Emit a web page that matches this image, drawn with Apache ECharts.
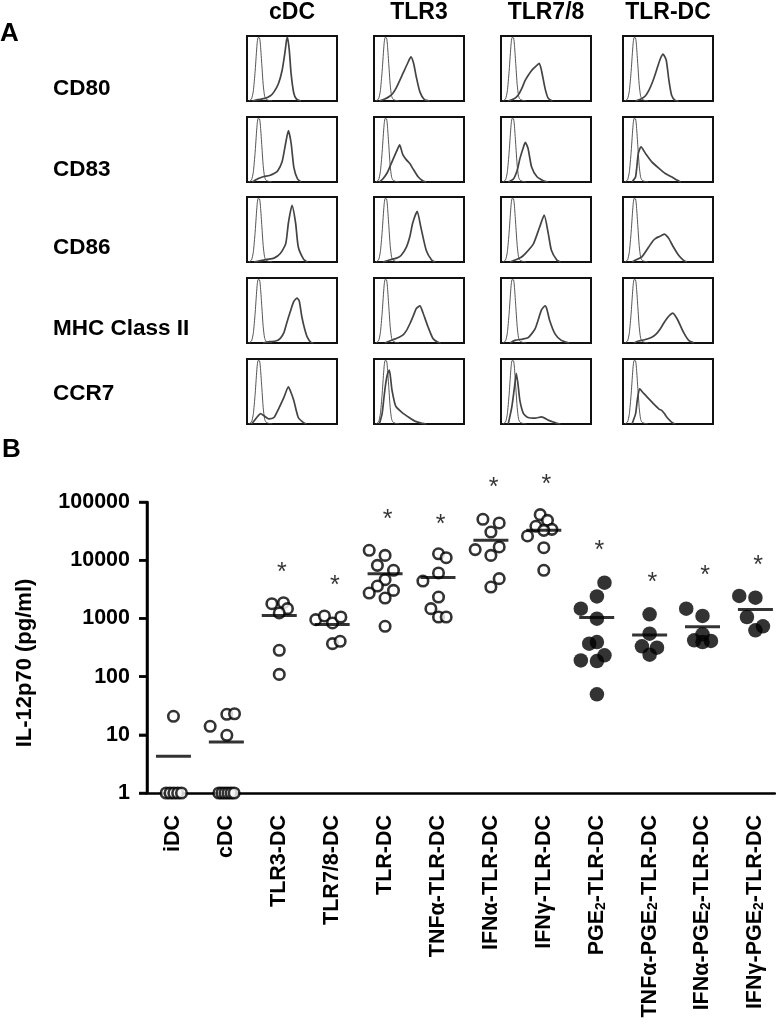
<!DOCTYPE html>
<html>
<head>
<meta charset="utf-8">
<title>IL-12p70</title>
<script src="https://cdn.jsdelivr.net/npm/echarts@6/dist/echarts.min.js"></script>
<style>
html, body { margin: 0; padding: 0; background: #fff; }
#chart { width: 776px; height: 1024px; }
</style>
</head>
<body>
<div id="chart"></div>
<script>
const FONT = "'Liberation Sans', Arial, Helvetica, sans-serif"

// ---- panel A: histograms (x = fluorescence 0..100, y = count 0..100) ----
const columnLabels = ['cDC', 'TLR3', 'TLR7/8', 'TLR-DC']
const rowLabels = ['CD80', 'CD83', 'CD86', 'MHC Class II', 'CCR7']

// isotype control, same thin peak in every box
const isotypeCurve = [[2, 0], [5, 3], [7, 15], [9, 45], [10.5, 75], [11.5, 92], [12.5, 98], [14, 97], [15, 85], [16.5, 55], [18, 25], [19.5, 8], [21, 3], [24, 1], [28, 0]]

// stained curves, one per column (cDC, TLR3, TLR7/8, TLR-DC)
const cd80Curves = [
  [[6, 0], [12, 2], [20, 4], [26, 8], [30, 14], [35, 27], [39, 47], [42, 73], [44, 94], [45, 98], [47, 78], [49, 42], [52, 12], [55, 3], [60, 0]],
  [[6, 0], [12, 3], [17, 7], [21, 12], [25, 21], [32, 42], [38, 60], [41, 68], [44, 58], [47, 37], [51, 14], [56, 2], [62, 0]],
  [[8, 0], [14, 3], [19, 9], [23, 19], [27, 32], [34, 47], [40, 55], [42.5, 58], [45, 47], [49, 19], [52.5, 4], [57, 0]],
  [[14, 0], [20, 3], [25, 8], [29, 17], [33, 30], [36, 42], [39, 55], [41.5, 65], [44.5, 72], [48, 63], [51, 32], [54, 9], [58, 1], [62, 0]]
]
const cd83Curves = [
  [[6, 0], [12, 5], [18, 8], [25, 10], [30, 13], [34, 17], [39, 31], [43, 60], [46, 79], [49, 60], [52, 23], [56, 5], [60, 0]],
  [[6, 0], [10, 5], [15, 15], [19, 28], [25, 47], [28.5, 57], [32, 42], [36, 34], [40, 28], [43, 21], [49, 8], [54, 2], [58, 0]],
  [[8, 0], [14, 5], [18, 18], [21, 36], [25, 54], [27, 61], [30, 52], [34, 23], [40, 8], [47, 2], [52, 0]],
  [[10, 0], [14, 8], [17, 44], [20, 54], [25, 44], [32, 31], [40, 21], [47, 13], [54, 8], [60, 3], [64, 0]]
]
const cd86Curves = [
  [[8, 0], [15, 2], [22, 4], [30, 6], [37, 13], [43, 28], [46, 60], [50, 87], [54, 60], [57, 23], [63, 4], [67, 0]],
  [[10, 0], [17, 3], [25, 6], [30, 10], [36, 23], [40, 40], [43, 60], [48, 78], [52, 54], [58, 18], [64, 3], [68, 0]],
  [[10, 0], [15.5, 3], [22, 7], [27, 13], [36, 28], [43, 54], [48, 72], [52.5, 44], [56, 18], [62, 3], [66, 0]],
  [[10, 0], [14, 3], [21, 8], [28.5, 23], [33, 32], [36, 36], [40, 39], [43, 41], [46, 43], [48, 41], [51, 36], [56, 23], [62, 10], [67, 3], [71, 0]]
]
const mhcCurves = [
  [[18, 0], [25, 2], [32, 3], [37, 7], [41, 16], [44, 30], [48, 48], [52, 64], [55.5, 69], [58, 65], [61, 40], [64, 22], [67, 9], [71, 1], [74, 0]],
  [[12, 0], [21, 5], [28, 9], [32, 12], [36, 19], [40, 30], [44, 43], [47, 53], [51, 57], [54, 48], [60, 25], [65.5, 7], [71, 1], [74, 0]],
  [[10, 0], [15.5, 4], [24, 6], [30, 8], [34, 14], [38, 22], [41, 34], [45, 51], [49, 57], [51, 52], [54, 35], [60, 14], [67, 4], [73, 1], [76, 0]],
  [[12, 0], [17, 3], [24, 5], [32, 9], [37, 14], [41.5, 22], [45, 30], [49, 38], [52, 43], [55.5, 46], [58, 42], [61, 35], [67, 17], [73, 4], [79, 0]]
]
const ccr7Curves = [
  [[5, 0], [8, 5], [12, 12], [15, 16], [18.5, 13], [24, 8], [30, 10], [35, 23], [41, 41], [46, 57], [49, 48], [52, 36], [57, 10], [62, 3], [66, 0]],
  [[6, 0], [9, 16], [11, 40], [13, 62], [15, 77], [17, 83], [18.5, 70], [20, 52], [24, 28], [31, 18], [39, 10], [46, 4], [54, 1], [58, 0]],
  [[8, 0], [12, 26], [15, 57], [17, 78], [19, 60], [21, 36], [25, 16], [30, 10], [38, 9], [45, 11], [52.5, 6], [58, 3], [62, 1], [66, 0]],
  [[10, 0], [14, 16], [16, 38], [18.5, 54], [23, 47], [28.5, 39], [34, 31], [40, 23], [43, 21], [46, 16], [49, 10], [54, 3], [58, 0]]
]

// ---- panel B: IL-12p70 (pg/ml) per DC type ----
const groups = ['iDC', 'cDC', 'TLR3-DC', 'TLR7/8-DC', 'TLR-DC', 'TNFα-TLR-DC', 'IFNα-TLR-DC', 'IFNγ-TLR-DC',
  'PGE2-TLR-DC', 'TNFα-PGE2-TLR-DC', 'IFNα-PGE2-TLR-DC', 'IFNγ-PGE2-TLR-DC']
const yTicks = [1, 10, 100, 1000, 10000, 100000]
const groupValues = [
  [1, 1, 1, 1, 1, 20.8],
  [1, 1, 1, 1, 1, 1, 14, 22.5, 23, 9.8],
  [1790, 1860, 1470, 1240, 283, 109],
  [951, 1100, 834, 1057, 368, 404],
  [14800, 12100, 8160, 6700, 4630, 3600, 3030, 2730, 2240, 731],
  [12900, 11050, 6030, 4390, 2330, 1470, 1057, 1057],
  [50400, 43600, 30500, 15200, 16900, 12100, 4820, 3460],
  [60600, 48400, 38200, 33900, 32600, 26100, 16400, 6700],
  [4110, 2390, 1470, 990, 368, 393, 232, 190, 185, 49.6],
  [1175, 547, 331, 314, 238],
  [1470, 1100, 532, 420, 409, 393],
  [2430, 2270, 1057, 624, 731]
]
// horizontal spread of the dots inside each group (category units)
const groupJitter = [
  [-0.138, -0.065, 0.007, 0.08, 0.152, 0],
  [-0.142, -0.084, -0.026, 0.032, 0.09, 0.147, -0.306, 0.009, 0.154, 0.009],
  [-0.14, 0.08, 0.155, 0, 0, 0],
  [-0.31, -0.146, 0.006, 0.164, 0.006, 0.151],
  [-0.3, 0, -0.145, 0.159, 0, -0.145, 0.159, -0.3, 0, 0],
  [0.01, 0.155, 0.01, -0.285, 0.01, -0.134, 0.01, 0.155],
  [-0.151, 0.157, 0, -0.297, 0.157, 0, 0.157, 0],
  [-0.068, 0.07, -0.149, 0.153, 0, -0.308, 0, 0],
  [0.147, 0.004, -0.3, 0.004, -0.142, 0.004, 0.147, -0.3, 0.004, 0.004],
  [0, 0, -0.145, 0.139, 0],
  [-0.308, 0, 0, -0.157, 0.159, 0],
  [-0.306, 0, -0.16, 0, 0.142]
]
const filledGroups = [8, 9, 10, 11] // PGE2 groups drawn as solid dots
const starLevels = [null, null, 7640, 4630, 63000, 51700, 220000, 252000, 18000, 5140, 6870, 10200]

const chartInstance = echarts.init(document.getElementById('chart'))

// layout of the histogram boxes
const boxLeft = [247, 374, 501, 623]
const boxTop = [36, 117, 197, 278, 359]
const rowLabelY = [89, 169.5, 248, 329, 394]
const stainedRows = [cd80Curves, cd83Curves, cd86Curves, mhcCurves, ccr7Curves]

const grids = []
const xAxes = []
const yAxes = []
const series = []
const graphics = []

stainedRows.forEach((rowCurves, r) => {
  rowCurves.forEach((curve, c) => {
    const idx = grids.length
    grids.push({ left: boxLeft[c], top: boxTop[r], width: 90, height: 65, show: true, borderColor: '#111', borderWidth: 2, backgroundColor: 'transparent' })
    xAxes.push({ gridIndex: idx, type: 'value', min: 0, max: 100, show: false })
    yAxes.push({ gridIndex: idx, type: 'value', min: 0, max: 100, show: false })
    series.push({
      type: 'line', xAxisIndex: idx, yAxisIndex: idx, data: isotypeCurve, showSymbol: false, silent: true,
      smooth: 0.2, lineStyle: { color: '#555', width: 1 }
    })
    series.push({
      type: 'line', xAxisIndex: idx, yAxisIndex: idx, data: curve, showSymbol: false, silent: true,
      smooth: 0.2, lineStyle: { color: '#444', width: 1.7 }
    })
  })
})

// panel B grid; group i sits at x = i + 0.5 so x = 0 is the left edge
const B = grids.length
const slot = i => i + 0.5
grids.push({ left: 147, top: 502, right: 1, bottom: 231 })
xAxes.push({
  gridIndex: B, type: 'value', min: 0, max: 11.87, position: 'bottom',
  axisLine: { onZero: false, lineStyle: { color: '#000', width: 2.5 } },
  axisTick: { show: false },
  splitLine: { show: false },
  axisLabel: {
    customValues: groups.map((g, i) => slot(i)),
    rotate: 90, margin: 22, color: '#000', fontSize: 21.5, fontWeight: 'bold', fontFamily: FONT,
    formatter: v => groups[Math.round(v - 0.5)].replace('PGE2', 'PGE{s|2}'),
    rich: { s: { fontSize: 14, fontWeight: 'bold', fontFamily: FONT, color: '#000', verticalAlign: 'bottom', lineHeight: 8 } }
  }
})
yAxes.push({
  gridIndex: B, type: 'log', logBase: 10, min: 1, max: 100000, interval: 1, position: 'left',
  axisLine: { show: true, onZero: true, lineStyle: { color: '#000', width: 2.5 } },
  axisTick: { show: true, length: 8, lineStyle: { color: '#000', width: 2.5 } },
  splitLine: { show: false },
  axisLabel: { margin: 17, color: '#000', fontSize: 21.5, fontWeight: 'bold', fontFamily: FONT, formatter: v => String(Math.round(v)) }
})

// y axis spine and decade ticks, drawn on x = 0 through the same scales
series.push({
  type: 'line', xAxisIndex: B, yAxisIndex: B, clip: false, silent: true, showSymbol: false,
  lineStyle: { color: '#000', width: 2.5 },
  data: [[0, yTicks[0]], [0, yTicks[yTicks.length - 1]]]
})
series.push({
  type: 'scatter', xAxisIndex: B, yAxisIndex: B, clip: false, silent: true,
  symbol: 'rect', symbolSize: [8, 2.5], symbolOffset: [-4, 0], itemStyle: { color: '#000' },
  data: yTicks.map(v => [0, v])
})

groupValues.forEach((vals, i) => {
  const filled = filledGroups.includes(i)
  series.push({
    type: 'scatter', xAxisIndex: B, yAxisIndex: B, clip: false, silent: true,
    symbol: 'circle', symbolSize: filled ? 14.5 : 10.5,
    itemStyle: filled ? { color: '#000' } : { color: '#fff', borderColor: '#000', borderWidth: 2.6 },
    data: vals.map((v, k) => [slot(i) + groupJitter[i][k], v])
  })
})

// group means
series.push({
  type: 'scatter', xAxisIndex: B, yAxisIndex: B, clip: false, silent: true,
  symbol: 'rect', symbolSize: [35, 3], itemStyle: { color: '#000' }, z: 5,
  data: groupValues.map((vals, i) => [slot(i), vals.reduce((a, b) => a + b, 0) / vals.length])
})

// significance stars
series.push({
  type: 'scatter', xAxisIndex: B, yAxisIndex: B, clip: false, silent: true,
  symbolSize: 1, itemStyle: { color: 'transparent' },
  label: { show: true, position: 'inside', formatter: '*', fontSize: 25, color: '#000', fontFamily: FONT, offset: [0, 6] },
  data: starLevels.map((v, i) => (v === null ? null : [slot(i) + 0.05, v])).filter(d => d)
})

// texts
const bold = size => 'bold ' + size + 'px ' + FONT
graphics.push({ type: 'text', x: 0, y: 34, style: { text: 'A', font: bold(26), fill: '#000', verticalAlign: 'middle' } })
graphics.push({ type: 'text', x: 2, y: 450, style: { text: 'B', font: bold(26), fill: '#000', verticalAlign: 'middle' } })
columnLabels.forEach((t, c) => {
  graphics.push({ type: 'text', x: boxLeft[c] + 45, y: 13, style: { text: t, font: bold(23), fill: '#000', align: 'center', verticalAlign: 'middle' } })
})
rowLabels.forEach((t, r) => {
  graphics.push({ type: 'text', x: 53, y: rowLabelY[r], style: { text: t, font: bold(22.5), fill: '#000', align: 'left', verticalAlign: 'middle' } })
})
graphics.push({
  type: 'text', x: 25, y: 663, rotation: Math.PI / 2,
  style: { text: 'IL-12p70 (pg/ml)', font: bold(22), fill: '#000', align: 'center', verticalAlign: 'middle' }
})

chartInstance.setOption({
  animation: false,
  backgroundColor: '#fff',
  grid: grids,
  xAxis: xAxes,
  yAxis: yAxes,
  series: series,
  graphic: graphics
})
</script>
</body>
</html>
